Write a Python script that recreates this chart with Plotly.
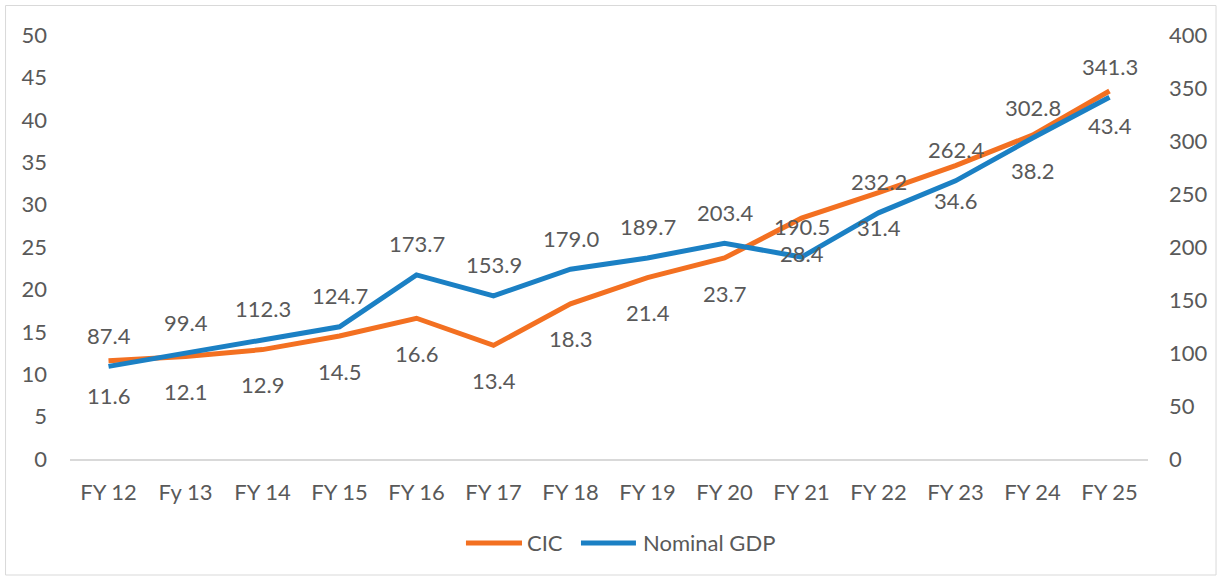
import plotly.graph_objects as go

categories = ["FY 12", "Fy 13", "FY 14", "FY 15", "FY 16", "FY 17", "FY 18",
              "FY 19", "FY 20", "FY 21", "FY 22", "FY 23", "FY 24", "FY 25"]
cic = [11.6, 12.1, 12.9, 14.5, 16.6, 13.4, 18.3, 21.4, 23.7, 28.4, 31.4, 34.6, 38.2, 43.4]
nominal_gdp = [87.4, 99.4, 112.3, 124.7, 173.7, 153.9, 179.0, 189.7, 203.4, 190.5,
               232.2, 262.4, 302.8, 341.3]
left_ticks = [0, 5, 10, 15, 20, 25, 30, 35, 40, 45, 50]
right_ticks = [0, 50, 100, 150, 200, 250, 300, 350, 400]
series_names = ["CIC", "Nominal GDP"]

ORANGE = "#F37021"
BLUE = "#1B80C4"
TEXT = "#595959"
FONT = "Lato"
FS = 22

fig = go.Figure()
fig.add_trace(go.Scatter(x=categories, y=cic, name=series_names[0], mode="lines",
                         line=dict(color=ORANGE, width=5), yaxis="y"))
fig.add_trace(go.Scatter(x=categories, y=nominal_gdp, name=series_names[1], mode="lines",
                         line=dict(color=BLUE, width=5), yaxis="y2"))

annotations = []
for c, v in zip(categories, cic):
    annotations.append(dict(x=c, y=v, xref="x", yref="y", text=f"{v:.1f}", showarrow=False,
                            yshift=-35, yanchor="middle",
                            font=dict(family=FONT, size=FS, color=TEXT)))
for c, v in zip(categories, nominal_gdp):
    annotations.append(dict(x=c, y=v, xref="x", yref="y2", text=f"{v:.1f}", showarrow=False,
                            yshift=31, yanchor="middle",
                            font=dict(family=FONT, size=FS, color=TEXT)))

# manual legend (longer line keys like the original)
LEG_Y = -0.1981
legend_items = [(series_names[0], ORANGE, 0.3673, 0.4193, 0.4221),
                (series_names[1], BLUE, 0.4740, 0.5250, 0.5297)]
shapes = [dict(type="rect", xref="paper", yref="paper",
               x0=-0.0598, x1=1.0631, y0=-0.2736, y1=1.0696,
               line=dict(color="#D9D9D9", width=1), fillcolor="rgba(0,0,0,0)",
               layer="below")]
for name, col, lx0, lx1, tx in legend_items:
    shapes.append(dict(type="line", xref="paper", yref="paper", x0=lx0, x1=lx1,
                       y0=LEG_Y, y1=LEG_Y, line=dict(color=col, width=5)))
    annotations.append(dict(x=tx, y=LEG_Y, xref="paper", yref="paper", text=name,
                            showarrow=False, xanchor="left", yanchor="middle",
                            font=dict(family=FONT, size=FS, color=TEXT)))

fig.update_layout(
    width=1220, height=577,
    margin=dict(l=70, r=72, t=35, b=118),
    paper_bgcolor="white", plot_bgcolor="white",
    font=dict(family=FONT, size=FS, color=TEXT),
    showlegend=False,
    xaxis=dict(type="category", range=[-0.5, 13.5], showgrid=False, showline=True,
               linecolor="#D9D9D9", linewidth=2, ticks="", ticklabelstandoff=13,
               zeroline=False, tickfont=dict(family=FONT, size=FS, color=TEXT)),
    yaxis=dict(range=[0, 50], tickvals=left_ticks, showgrid=False, zeroline=False,
               showline=False, ticks="", ticklabelstandoff=22,
               tickfont=dict(family=FONT, size=FS, color=TEXT)),
    yaxis2=dict(range=[0, 400], tickvals=right_ticks, overlaying="y", side="right",
                showgrid=False, zeroline=False, showline=False, ticks="",
                ticklabelstandoff=20,
                tickfont=dict(family=FONT, size=FS, color=TEXT)),
    annotations=annotations,
    shapes=shapes,
)

fig.write_html("out.html", config={"displayModeBar": False},
               post_script="document.body.style.margin='0';document.body.style.overflow='hidden';")
